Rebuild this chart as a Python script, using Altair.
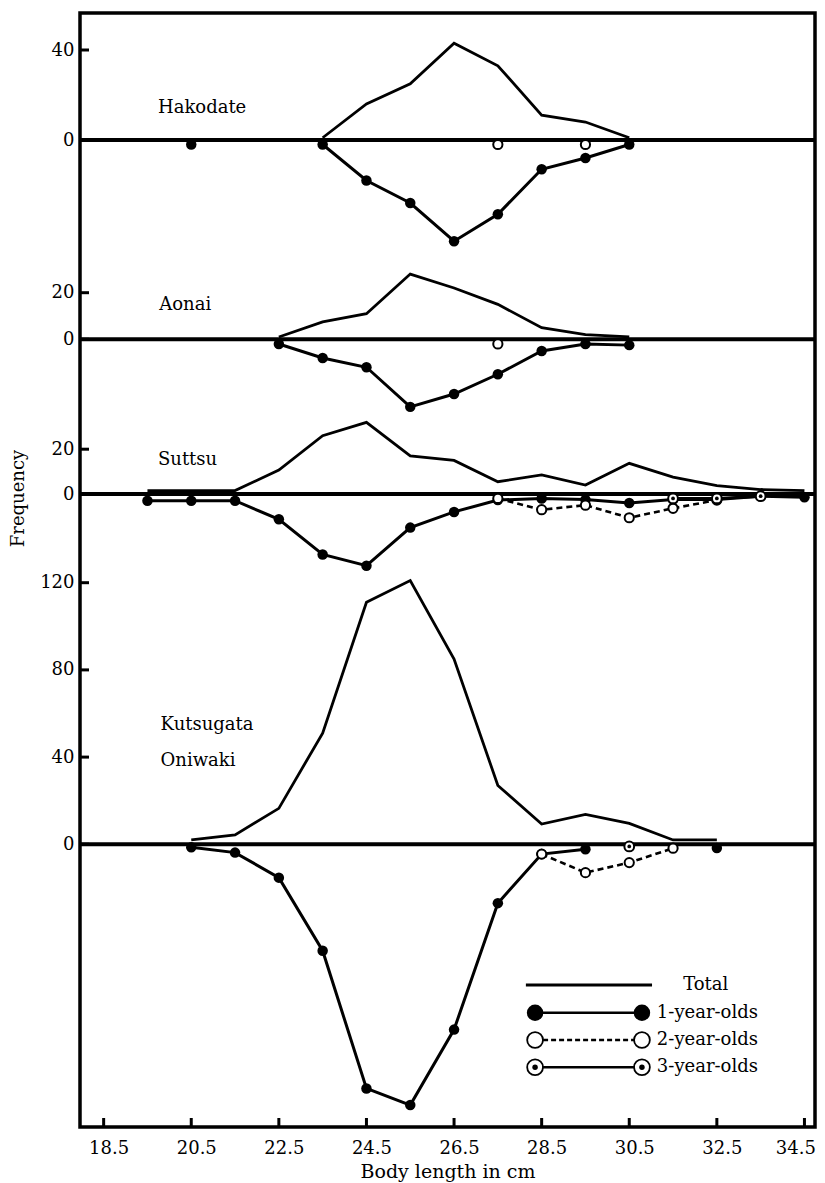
import altair as alt
import pandas as pd

# ------------------------------------------------------------------ data
# body length (cm) and frequency
H_TOTAL_X = [23.5, 24.5, 25.5, 26.5, 27.5, 28.5, 29.5, 30.5]
H_TOTAL = [1, 16, 25, 43, 33, 11, 8, 1]
H_AGE1_X = [23.5, 24.5, 25.5, 26.5, 27.5, 28.5, 29.5, 30.5]
H_AGE1 = [2, 18, 28, 45, 33, 13, 8, 2]
H_AGE1_SINGLE_X = [20.5]
H_AGE1_SINGLE = [2]
H_AGE2_SINGLE_X = [27.5, 29.5]
H_AGE2_SINGLE = [2, 2]

A_TOTAL_X = [22.5, 23.5, 24.5, 25.5, 26.5, 27.5, 28.5, 29.5, 30.5]
A_TOTAL = [1, 7.5, 11, 28, 22, 15, 5, 2, 1]
A_AGE1_X = [22.5, 23.5, 24.5, 25.5, 26.5, 27.5, 28.5, 29.5, 30.5]
A_AGE1 = [2, 8, 12, 29, 23.5, 15, 5, 2, 2.5]
A_AGE2_SINGLE_X = [27.5]
A_AGE2_SINGLE = [2]

S_TOTAL_X = [19.5, 20.5, 21.5, 22.5, 23.5, 24.5, 25.5, 26.5, 27.5, 28.5,
             29.5, 30.5, 31.5, 32.5, 33.5, 34.5]
S_TOTAL = [1.5, 1.5, 1.5, 10.7, 26, 32, 17, 15, 5.5, 8.5, 4, 13.7, 7.5, 3.7, 2, 1.5]
S_AGE1_X = S_TOTAL_X
S_AGE1 = [3, 3, 3, 11.3, 27, 32, 15, 8, 2.7, 2, 2.5, 4, 2.5, 2.5, 1, 1.5]
S_AGE2_X = [27.5, 28.5, 29.5, 30.5, 31.5, 32.5]
S_AGE2 = [2, 7, 5, 10.6, 6.4, 2.7]
S_AGE3_X = [31.5, 32.5, 33.5]
S_AGE3 = [2, 2, 1]

K_TOTAL_X = [20.5, 21.5, 22.5, 23.5, 24.5, 25.5, 26.5, 27.5, 28.5, 29.5, 30.5, 31.5, 32.5]
K_TOTAL = [2, 4.3, 16.5, 51, 111, 121, 85, 27, 9.3, 13.7, 9.6, 2, 2]
K_AGE1_X = [20.5, 21.5, 22.5, 23.5, 24.5, 25.5, 26.5, 27.5, 28.5, 29.5]
K_AGE1 = [1.4, 3.8, 15.3, 48.8, 112, 119.6, 85, 27, 4.5, 2.3]
K_AGE1_SINGLE_X = [32.5]
K_AGE1_SINGLE = [1.7]
K_AGE2_X = [28.5, 29.5, 30.5, 31.5]
K_AGE2 = [4.5, 13, 8.4, 1.8]
K_AGE3_SINGLE_X = [30.5]
K_AGE3_SINGLE = [1]

REGIONS = ["Hakodate", "Aonai", "Suttsu", "Kutsugata"]
REGION_TICKS = {"Hakodate": [0, 40], "Aonai": [0, 20], "Suttsu": [0, 20],
                "Kutsugata": [0, 40, 80, 120]}
X_TICKS = [18.5, 20.5, 22.5, 24.5, 26.5, 28.5, 30.5, 32.5, 34.5]
LEGEND_LABELS = ["Total", "1-year-olds", "2-year-olds", "3-year-olds"]

# ------------------------------------------------------------------ layout
W, H = 735, 1114
X_MIN, PX_PER_CM = 17.96, 43.8
BASE = {"Hakodate": 987, "Aonai": 787.7, "Suttsu": 633, "Kutsugata": 282.7}
UNIT = {"Hakodate": 2.25, "Aonai": 2.33, "Suttsu": 2.24, "Kutsugata": 2.18}
FONT = "DejaVu Serif"

rows = []
def add(region, series, seg, xs, vs):
    sign = 1 if series == "total" else -1
    for x, v in zip(xs, vs):
        rows.append({"x": x, "u": BASE[region] + sign * v * UNIT[region],
                     "series": series, "seg": f"{region}-{series}-{seg}"})

add("Hakodate", "total", 0, H_TOTAL_X, H_TOTAL)
add("Hakodate", "age1", 0, H_AGE1_X, H_AGE1)
add("Hakodate", "age1", 1, H_AGE1_SINGLE_X, H_AGE1_SINGLE)
for i, (x, v) in enumerate(zip(H_AGE2_SINGLE_X, H_AGE2_SINGLE)):
    add("Hakodate", "age2", i, [x], [v])
add("Aonai", "total", 0, A_TOTAL_X, A_TOTAL)
add("Aonai", "age1", 0, A_AGE1_X, A_AGE1)
add("Aonai", "age2", 0, A_AGE2_SINGLE_X, A_AGE2_SINGLE)
add("Suttsu", "total", 0, S_TOTAL_X, S_TOTAL)
add("Suttsu", "age1", 0, S_AGE1_X, S_AGE1)
add("Suttsu", "age2", 0, S_AGE2_X, S_AGE2)
add("Suttsu", "age3", 0, S_AGE3_X, S_AGE3)
add("Kutsugata", "total", 0, K_TOTAL_X, K_TOTAL)
add("Kutsugata", "age1", 0, K_AGE1_X, K_AGE1)
add("Kutsugata", "age1", 1, K_AGE1_SINGLE_X, K_AGE1_SINGLE)
add("Kutsugata", "age2", 0, K_AGE2_X, K_AGE2)
add("Kutsugata", "age3", 0, K_AGE3_SINGLE_X, K_AGE3_SINGLE)
df = pd.DataFrame(rows)

tick_rows = []
for r in REGIONS:
    for t in REGION_TICKS[r]:
        tick_rows.append({"u": round(BASE[r] + t * UNIT[r], 2), "label": str(t)})
ticks_df = pd.DataFrame(tick_rows)
base_df = pd.DataFrame({"u": [BASE[r] for r in REGIONS]})
xt_df = pd.DataFrame({"x": X_TICKS})

label_expr = " : ".join(
    f"abs(datum.value - {row['u']}) < 0.5 ? '{row['label']}'" for row in tick_rows
) + " : ''"

xscale = alt.Scale(domain=[X_MIN, X_MIN + W / PX_PER_CM], nice=False, zero=False)
yscale = alt.Scale(domain=[0, H], nice=False, zero=False)

xaxis = alt.Axis(values=X_TICKS, format=".1f", title="Body length in cm",
                 ticks=False, tickSize=0, domain=False, grid=False,
                 labelFont=FONT, labelFontSize=18, labelColor="black",
                 labelPadding=12, labelFlush=False,
                 labelAlign={"condition": {"test": "datum.value > 34", "value": "right"},
                             "value": "center"},
                 labelOffset={"condition": {"test": "datum.value > 34", "value": 11},
                              "value": 5},
                 titleFont=FONT, titleFontSize=19, titleFontWeight="normal",
                 titleColor="black", titlePadding=5)
yaxis = alt.Axis(values=[row["u"] for row in tick_rows], labelExpr=label_expr,
                 title="Frequency", ticks=False, tickSize=0, domain=False, grid=False,
                 labelFont=FONT, labelFontSize=18, labelColor="black", labelPadding=6,
                 labelFlush=False, labelOverlap=False,
                 titleFont=FONT, titleFontSize=18, titleFontWeight="normal",
                 titleColor="black", titleAngle=270, titleX=-62, titleY=485,
                 titleAlign="center", titleBaseline="middle")

X = alt.X("x:Q", scale=xscale, axis=xaxis)
Y = alt.Y("u:Q", scale=yscale, axis=yaxis)

data = alt.Chart(df)

total = data.transform_filter("datum.series == 'total'").mark_line(
    color="black", strokeWidth=2.8, strokeJoin="miter"
).encode(x=X, y=Y, detail="seg:N")

age1_line = data.transform_filter("datum.series == 'age1'").mark_line(
    color="black", strokeWidth=3).encode(x=X, y=Y, detail="seg:N")
age2_line = data.transform_filter("datum.series == 'age2'").mark_line(
    color="black", strokeWidth=2.6, strokeDash=[6, 4]).encode(x=X, y=Y, detail="seg:N")
age3_line = data.transform_filter("datum.series == 'age3'").mark_line(
    color="black", strokeWidth=3).encode(x=X, y=Y, detail="seg:N")

age1_pts = data.transform_filter("datum.series == 'age1'").mark_circle(
    color="black", opacity=1, size=110).encode(x=X, y=Y)
age2_pts = data.transform_filter("datum.series == 'age2'").mark_point(
    shape="circle", filled=True, fill="white", stroke="black", strokeWidth=2,
    opacity=1, size=85).encode(x=X, y=Y)
age3_pts = data.transform_filter("datum.series == 'age3'").mark_point(
    shape="circle", filled=True, fill="white", stroke="black", strokeWidth=2,
    opacity=1, size=95).encode(x=X, y=Y)
age3_dot = data.transform_filter("datum.series == 'age3'").mark_circle(
    color="black", opacity=1, size=14).encode(x=X, y=Y)

baselines = alt.Chart(base_df).mark_rule(color="black", strokeWidth=4).encode(y=Y)
yticks = alt.Chart(ticks_df).mark_rule(color="black", strokeWidth=3).encode(
    y=Y, x=alt.value(0), x2=alt.value(9))
xticks = alt.Chart(xt_df).mark_rule(color="black", strokeWidth=3).encode(
    x=X, y=alt.value(H), y2=alt.value(H - 9))

# region names (placed in data coordinates)
name_df = pd.DataFrame({
    "name": ["Hakodate", "Aonai", "Suttsu", "Kutsugata", "Oniwaki"],
    "x": [19.74, 19.77, 19.74, 19.80, 19.80],
    "u": [1019, 822, 667, 402, 366],
})
names = alt.Chart(name_df).mark_text(
    align="left", baseline="middle", font=FONT, fontSize=18, color="black"
).encode(x=X, y=Y, text="name:N")

# legend, placed in data coordinates in the lower right corner
LEG_U = [142, 114.3, 87, 59.7]
leg_df = pd.DataFrame({
    "label": LEGEND_LABELS, "u": LEG_U,
    "kind": ["total", "age1", "age2", "age3"],
    "x": [28.14, 28.35, 28.35, 28.35],
    "x2": [31.02, 30.79, 30.79, 30.79],
    "tx": [31.73, 31.13, 31.13, 31.13],
})
leg = alt.Chart(leg_df)
leg_total = leg.transform_filter("datum.kind == 'total'").mark_rule(
    color="black", strokeWidth=2.8).encode(x=X, x2="x2:Q", y=Y)
leg_solid = leg.transform_filter("datum.kind == 'age1' || datum.kind == 'age3'").mark_rule(
    color="black", strokeWidth=2.6).encode(x=X, x2="x2:Q", y=Y)
leg_dash = leg.transform_filter("datum.kind == 'age2'").mark_rule(
    color="black", strokeWidth=2.6, strokeDash=[5, 3]).encode(x=X, x2="x2:Q", y=Y)
leg_marks = []
for fld in ("x", "x2"):
    XF = alt.X(f"{fld}:Q", scale=xscale, axis=xaxis)
    leg_marks.append(leg.transform_filter("datum.kind == 'age1'").mark_circle(
        color="black", opacity=1, size=270).encode(x=XF, y=Y))
    leg_marks.append(leg.transform_filter("datum.kind == 'age2' || datum.kind == 'age3'").mark_point(
        shape="circle", filled=True, fill="white", stroke="black", strokeWidth=1.8,
        opacity=1, size=250).encode(x=XF, y=Y))
    leg_marks.append(leg.transform_filter("datum.kind == 'age3'").mark_circle(
        color="black", opacity=1, size=30).encode(x=XF, y=Y))
leg_text = leg.mark_text(align="left", baseline="middle", font=FONT, fontSize=18,
                         color="black").encode(
    x=alt.X("tx:Q", scale=xscale, axis=xaxis), y=Y, text="label:N")

chart = alt.layer(
    total, baselines, yticks, xticks, age1_line, age2_line, age3_line,
    age1_pts, age2_pts, age3_pts, age3_dot, names,
    leg_total, leg_solid, leg_dash, *leg_marks, leg_text
).properties(
    width=W, height=H,
    autosize=alt.AutoSizeParams(type="none"),
    padding={"left": 72, "top": 5, "right": 2, "bottom": 56},
    background="white",
).configure_view(stroke="black", strokeWidth=3.5)

chart.save("out.html", embed_options={"renderer": "svg", "actions": False})
